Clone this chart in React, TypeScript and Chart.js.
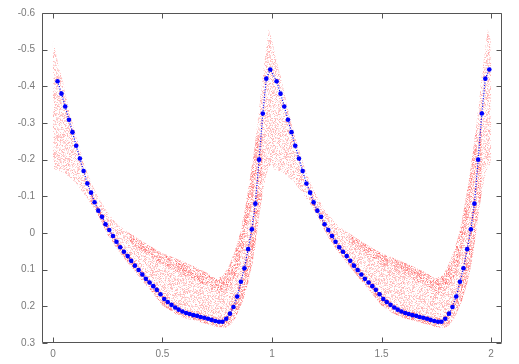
import React, { useEffect, useRef } from "react";
import { Chart, registerables } from "chart.js";

Chart.register(...registerables);

// Binned mean light curve (one cycle of phase), plotted for two cycles
const binPhase = [
  0.021, 0.039, 0.056, 0.073, 0.089, 0.106, 0.123, 0.14, 0.157, 0.174, 0.19, 0.207, 0.224, 0.24, 0.257,
  0.274, 0.29, 0.307, 0.324, 0.341, 0.357, 0.374, 0.391, 0.408, 0.424, 0.441, 0.458, 0.474, 0.491, 0.508,
  0.524, 0.541, 0.558, 0.574, 0.591, 0.608, 0.624, 0.641, 0.658, 0.674, 0.691, 0.708, 0.724, 0.741, 0.758,
  0.774, 0.791, 0.808, 0.824, 0.841, 0.858, 0.874, 0.891, 0.908, 0.924, 0.941, 0.958, 0.974, 0.992,
];
const binMag = [
  -0.414, -0.38, -0.345, -0.309, -0.275, -0.238, -0.203, -0.169, -0.135, -0.11, -0.084, -0.061, -0.044, -0.024, -0.008,
  0.008, 0.024, 0.039, 0.051, 0.063, 0.076, 0.089, 0.101, 0.113, 0.125, 0.135, 0.145, 0.155, 0.167, 0.18,
  0.188, 0.196, 0.203, 0.209, 0.214, 0.218, 0.221, 0.224, 0.226, 0.229, 0.231, 0.234, 0.237, 0.24, 0.242,
  0.242, 0.234, 0.22, 0.202, 0.173, 0.133, 0.096, 0.044, -0.01, -0.08, -0.2, -0.326, -0.421, -0.446,
];

// Outline of the cloud of individual measurements (one cycle)
const cloudPhase = [
  0.0, 0.01, 0.025, 0.045, 0.07, 0.09, 0.12, 0.15, 0.18, 0.21, 0.25, 0.3, 0.35, 0.4, 0.45, 0.5, 0.55, 0.6, 0.65,
  0.7, 0.745, 0.775, 0.8, 0.83, 0.855, 0.875, 0.895, 0.915, 0.93, 0.945, 0.96, 0.975, 0.985, 0.993, 1.0,
  1.0, 0.985, 0.97, 0.955, 0.94, 0.925, 0.91, 0.89, 0.87, 0.85, 0.83, 0.81, 0.79, 0.765, 0.74, 0.7, 0.65,
  0.6, 0.55, 0.5, 0.45, 0.4, 0.35, 0.3, 0.25, 0.2, 0.15, 0.1, 0.05, 0.0,
];
const cloudMag = [
  -0.525, -0.5, -0.46, -0.415, -0.345, -0.3, -0.235, -0.175, -0.13, -0.095, -0.055, -0.02, 0.0, 0.02, 0.038, 0.055,
  0.067, 0.08, 0.093, 0.108, 0.125, 0.118, 0.095, 0.05, 0.0, -0.06, -0.13, -0.21, -0.28, -0.36, -0.44, -0.51,
  -0.555, -0.54, -0.52,
  -0.19, -0.18, -0.15, -0.1, -0.04, 0.03, 0.085, 0.14, 0.18, 0.21, 0.235, 0.25, 0.258, 0.258, 0.255, 0.248, 0.24,
  0.232, 0.218, 0.198, 0.16, 0.125, 0.088, 0.05, 0.005, -0.055, -0.1, -0.14, -0.165, -0.175,
];

// Denser upper branch of the cloud
const upperBandPhase = [
  0.35, 0.4, 0.45, 0.5, 0.55, 0.6, 0.65, 0.7, 0.745, 0.775, 0.8, 0.83, 0.855, 0.875, 0.895, 0.915, 0.93,
  0.945, 0.93, 0.91, 0.89, 0.87, 0.85, 0.82, 0.79, 0.765, 0.74, 0.7, 0.65, 0.6, 0.55, 0.5, 0.45, 0.4, 0.35,
];
const upperBandMag = [
  0.0, 0.02, 0.038, 0.055, 0.067, 0.08, 0.093, 0.108, 0.125, 0.118, 0.095, 0.05, 0.0, -0.06, -0.13, -0.21, -0.28,
  -0.25, -0.17, -0.09, -0.02, 0.04, 0.09, 0.135, 0.16, 0.168, 0.16, 0.143, 0.128, 0.115, 0.1, 0.085, 0.065, 0.045, 0.025,
];

// Denser lower branch of the cloud (along the mean curve)
const lowerBandPhase = [
  0.174, 0.207, 0.24, 0.274, 0.307, 0.341, 0.374, 0.408, 0.441, 0.474, 0.508, 0.541, 0.574, 0.608, 0.641, 0.674,
  0.708, 0.741, 0.774, 0.808, 0.841, 0.874, 0.908, 0.941, 0.958,
  0.955, 0.94, 0.925, 0.91, 0.89, 0.87, 0.85, 0.83, 0.81, 0.79, 0.765, 0.74, 0.7, 0.65, 0.6, 0.55, 0.5, 0.45,
  0.4, 0.35, 0.3, 0.25, 0.2, 0.174,
];
const lowerBandMag = [
  -0.12, -0.07, -0.035, -0.003, 0.028, 0.053, 0.078, 0.102, 0.124, 0.145, 0.17, 0.186, 0.199, 0.208, 0.214, 0.219,
  0.224, 0.23, 0.232, 0.21, 0.163, 0.086, -0.02, -0.21, -0.336,
  -0.1, -0.04, 0.03, 0.085, 0.14, 0.18, 0.21, 0.235, 0.25, 0.258, 0.258, 0.255, 0.248, 0.24, 0.232, 0.218, 0.198,
  0.16, 0.125, 0.088, 0.05, 0.005, -0.055, -0.08,
];

const cycles = [0, 1];
const xTicks = [0, 0.5, 1, 1.5, 2];
const yTicks = [-0.6, -0.5, -0.4, -0.3, -0.2, -0.1, 0, 0.1, 0.2, 0.3];

function speckle(density: number, aMin: number, aMax: number, seed: number, w: number, h: number) {
  const c = document.createElement("canvas");
  c.width = w;
  c.height = h;
  const g = c.getContext("2d")!;
  let s = seed >>> 0;
  const rnd = () => {
    s = (Math.imul(s, 1103515245) + 12345) >>> 0;
    return (s >>> 8) / 16777216;
  };
  for (let y = 0; y < h; y++) {
    for (let x = 0; x < w; x++) {
      if (rnd() < density) {
        const a = aMin + (aMax - aMin) * rnd();
        g.fillStyle = `rgba(255,0,0,${a.toFixed(3)})`;
        g.fillRect(x, y, 1, 1);
      }
    }
  }
  return g.createPattern(c, "repeat") as CanvasPattern;
}

function poly(ph: number[], mg: number[], k: number) {
  return ph.map((p, i) => ({ x: p + k, y: mg[i] }));
}

const fmt = (v: number) => {
  if (Math.abs(v) < 1e-9) return "0";
  const r = Math.round(v * 10) / 10;
  return String(r);
};

const framePlugin = {
  id: "frame",
  afterDatasetsDraw(chart: any) {
    const { ctx, chartArea: a, scales } = chart;
    const L = Math.round(a.left) + 0.5;
    const R = Math.round(a.right) - 0.5;
    const T = Math.round(a.top) + 0.5;
    const B = Math.round(a.bottom) - 0.5;
    ctx.save();
    ctx.strokeStyle = "#555555";
    ctx.lineWidth = 1;
    ctx.beginPath();
    ctx.rect(L, T, R - L, B - T);
    for (const v of xTicks) {
      const px = Math.round(scales.x.getPixelForValue(v)) + 0.5;
      ctx.moveTo(px, B);
      ctx.lineTo(px, B - 5);
      ctx.moveTo(px, T);
      ctx.lineTo(px, T + 5);
    }
    for (const v of yTicks) {
      const py = Math.round(scales.y.getPixelForValue(v)) + 0.5;
      ctx.moveTo(L, py);
      ctx.lineTo(L + 5, py);
      ctx.moveTo(R, py);
      ctx.lineTo(R - 5, py);
    }
    ctx.stroke();
    ctx.restore();
  },
};

export default function App() {
  const ref = useRef<HTMLCanvasElement | null>(null);
  useEffect(() => {
    if (!ref.current) return;
    const outerPat = speckle(0.5, 0.06, 0.32, 12345, 67, 59);
    const bandPat = speckle(0.45, 0.1, 0.42, 98765, 61, 53);

    const datasets: any[] = [];
    datasets.push({
      data: cycles.flatMap((k) => binPhase.map((p, i) => ({ x: p + k, y: binMag[i] }))),
      borderColor: "#0000ff",
      borderWidth: 1.2,
      borderDash: [1, 1.6],
      pointRadius: 2.3,
      pointBackgroundColor: "#0000ff",
      pointBorderWidth: 0,
      pointHoverRadius: 2.3,
      fill: false,
      order: 0,
    });
    for (const k of cycles) {
      datasets.push({
        data: poly(upperBandPhase, upperBandMag, k),
        borderColor: "rgba(0,0,0,0)",
        borderWidth: 0,
        pointRadius: 0,
        fill: "shape",
        backgroundColor: bandPat,
        order: 1,
      });
      datasets.push({
        data: poly(lowerBandPhase, lowerBandMag, k),
        borderColor: "rgba(0,0,0,0)",
        borderWidth: 0,
        pointRadius: 0,
        fill: "shape",
        backgroundColor: bandPat,
        order: 1,
      });
      datasets.push({
        data: poly(cloudPhase, cloudMag, k),
        borderColor: "rgba(0,0,0,0)",
        borderWidth: 0,
        pointRadius: 0,
        fill: "shape",
        backgroundColor: outerPat,
        order: 2,
      });
    }

    const chart = new Chart(ref.current, {
      type: "line",
      data: { datasets },
      options: {
        animation: false,
        responsive: false,
        devicePixelRatio: 1,
        events: [],
        layout: { padding: { left: 0, right: 17, top: 12, bottom: 0 } },
        plugins: { legend: { display: false }, tooltip: { enabled: false } },
        elements: { line: { tension: 0 } },
        scales: {
          x: {
            type: "linear",
            min: -0.05,
            max: 2.05,
            grid: { display: false, drawTicks: false },
            border: { display: false },
            afterBuildTicks: (s: any) => {
              s.ticks = xTicks.map((v) => ({ value: v }));
            },
            afterFit: (s: any) => {
              s.height = 21;
            },
            ticks: {
              color: "#7a7a7a",
              padding: 5,
              maxRotation: 0,
              autoSkip: false,
              font: { family: "'Liberation Sans', Arial, sans-serif", size: 10 },
              callback: (v: any) => fmt(Number(v)),
            },
          },
          y: {
            type: "linear",
            min: -0.6,
            max: 0.3,
            reverse: true,
            grid: { display: false, drawTicks: false },
            border: { display: false },
            afterBuildTicks: (s: any) => {
              s.ticks = yTicks.map((v) => ({ value: v }));
            },
            afterFit: (s: any) => {
              s.width = 42;
            },
            ticks: {
              color: "#7a7a7a",
              padding: 7,
              autoSkip: false,
              font: { family: "'Liberation Sans', Arial, sans-serif", size: 10 },
              callback: (v: any) => fmt(Number(v)),
            },
          },
        },
      },
      plugins: [framePlugin],
    });
    return () => chart.destroy();
  }, []);

  return (
    <div style={{ position: "fixed", left: 0, top: 0, width: 519, height: 364, background: "#fff" }}>
      <canvas ref={ref} width={519} height={364} style={{ display: "block", width: 519, height: 364 }} />
    </div>
  );
}
